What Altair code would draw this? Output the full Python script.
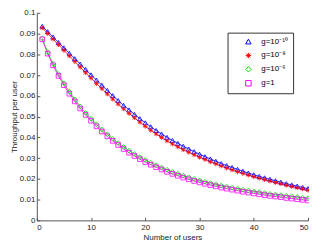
import altair as alt
import pandas as pd

users = list(range(1, 51))

g_1e10 = [0.0935, 0.0909, 0.0883, 0.0857, 0.0831, 0.0805, 0.0779, 0.0753, 0.0727, 0.0701,
          0.0676, 0.0651, 0.0626, 0.0601, 0.0577, 0.0554, 0.0532, 0.0511, 0.0490, 0.0470,
          0.0451, 0.0433, 0.0416, 0.0400, 0.0385, 0.0371, 0.0357, 0.0344, 0.0331, 0.0319,
          0.0307, 0.0296, 0.0285, 0.0274, 0.0264, 0.0255, 0.0246, 0.0237, 0.0228, 0.0220,
          0.0212, 0.0205, 0.0198, 0.0191, 0.0184, 0.0177, 0.0171, 0.0165, 0.0159, 0.0153]

g_1e8 = [0.0927, 0.0900, 0.0873, 0.0846, 0.0819, 0.0792, 0.0765, 0.0738, 0.0711, 0.0685,
         0.0659, 0.0634, 0.0609, 0.0584, 0.0560, 0.0537, 0.0515, 0.0494, 0.0473, 0.0453,
         0.0434, 0.0416, 0.0399, 0.0383, 0.0368, 0.0354, 0.0340, 0.0328, 0.0316, 0.0304,
         0.0293, 0.0282, 0.0272, 0.0262, 0.0252, 0.0243, 0.0234, 0.0226, 0.0218, 0.0210,
         0.0203, 0.0196, 0.0189, 0.0182, 0.0176, 0.0169, 0.0163, 0.0157, 0.0151, 0.0145]

g_1e6 = [0.0877, 0.0810, 0.0755, 0.0705, 0.0660, 0.0620, 0.0583, 0.0549, 0.0518, 0.0490,
         0.0463, 0.0438, 0.0415, 0.0393, 0.0373, 0.0354, 0.0336, 0.0320, 0.0305, 0.0291,
         0.0278, 0.0266, 0.0255, 0.0244, 0.0234, 0.0225, 0.0216, 0.0208, 0.0200, 0.0193,
         0.0186, 0.0180, 0.0174, 0.0168, 0.0163, 0.0158, 0.0153, 0.0148, 0.0144, 0.0140,
         0.0136, 0.0132, 0.0128, 0.0125, 0.0122, 0.0119, 0.0116, 0.0113, 0.0110, 0.0107]

g_1 = [0.0872, 0.0803, 0.0747, 0.0696, 0.0651, 0.0610, 0.0573, 0.0539, 0.0508, 0.0480,
       0.0453, 0.0428, 0.0405, 0.0383, 0.0363, 0.0344, 0.0326, 0.0310, 0.0295, 0.0281,
       0.0268, 0.0256, 0.0245, 0.0234, 0.0224, 0.0215, 0.0206, 0.0198, 0.0190, 0.0183,
       0.0176, 0.0170, 0.0164, 0.0158, 0.0153, 0.0148, 0.0143, 0.0138, 0.0134, 0.0130,
       0.0126, 0.0122, 0.0118, 0.0115, 0.0112, 0.0108, 0.0105, 0.0102, 0.0099, 0.0096]

series_names = ["g=10\u207b\u00b9\u2070", "g=10\u207b\u2078", "g=10\u207b\u2076", "g=1"]
series_values = [g_1e10, g_1e8, g_1e6, g_1]
colors = ["#0000ff", "#ff0000", "#00e000", "#ff00ff"]
asterisk = "M-1,0L1,0M0,-1L0,1M-0.7,-0.7L0.7,0.7M-0.7,0.7L0.7,-0.7"
shapes = ["triangle-up", asterisk, "diamond", "square"]

x_ticks = [0, 10, 20, 30, 40, 50]
y_ticks = [0, 0.01, 0.02, 0.03, 0.04, 0.05, 0.06, 0.07, 0.08, 0.09, 0.1]

rows = []
for name, vals in zip(series_names, series_values):
    for u, v in zip(users, vals):
        rows.append({"users": u, "thr": v, "series": name})
df = pd.DataFrame(rows)

W, H = 273, 209
FONT = "Liberation Sans"

xs = alt.Scale(domain=[0, 50], nice=False)
ys = alt.Scale(domain=[0, 0.1], nice=False)

def legend():
    return alt.Legend(title=None, orient="none", legendX=192, legendY=20,
                      fillColor="white", strokeColor="#333333", padding=5,
                      labelFontSize=8, labelFont=FONT, symbolSize=30,
                      symbolStrokeWidth=1, rowPadding=4, labelOffset=9,
                      symbolOffset=12)

color = alt.Color("series:N", scale=alt.Scale(domain=series_names, range=colors),
                  legend=legend())
shape = alt.Shape("series:N", scale=alt.Scale(domain=series_names, range=shapes),
                  legend=legend())

xaxis = alt.Axis(values=x_ticks, grid=False, ticks=False, labelFontSize=8, labelFont=FONT,
                 title="Number of users", titleFontSize=8, titleFont=FONT,
                 titleFontWeight="normal", labelPadding=3, titlePadding=2,
                 domainColor="#555555", labelColor="#222222", titleColor="#222222")
yaxis = alt.Axis(values=y_ticks, format="~g", grid=False, ticks=False, labelFontSize=8,
                 labelFont=FONT, labelOverlap=False, title="Throughput per user",
                 titleFontSize=8, titleFont=FONT, titleFontWeight="normal",
                 labelPadding=2, titlePadding=1,
                 domainColor="#555555", labelColor="#222222", titleColor="#222222")

# inward tick marks: mirrored axes placed on the bottom/left edges
xin = alt.Axis(orient="top", offset=-H, values=x_ticks, labels=False, domain=False,
               grid=False, ticks=True, tickSize=3, tickColor="#555555", title=None)
yin = alt.Axis(orient="right", offset=-W, values=y_ticks, labels=False, domain=False,
               grid=False, ticks=True, tickSize=3, tickColor="#555555", title=None)

base = alt.Chart(df)
lines = base.mark_line(strokeWidth=0.8).encode(
    x=alt.X("users:Q", scale=xs, axis=xaxis),
    y=alt.Y("thr:Q", scale=ys, axis=yaxis),
    color=color,
    detail="series:N",
)
points = base.mark_point(filled=False, size=22, strokeWidth=0.8, opacity=1).encode(
    x=alt.X("users:Q", scale=xs, axis=xin),
    y=alt.Y("thr:Q", scale=ys, axis=yin),
    color=color,
    shape=shape,
)

chart = alt.layer(lines, points).resolve_axis(x="independent", y="independent").properties(
    width=W, height=H,
    autosize=alt.AutoSizeParams(type="none"),
    padding={"left": 29, "top": 4, "right": 1, "bottom": 26},
).configure_view(stroke=None).configure_axis(domainWidth=1)

chart.save("out.html", embed_options={"renderer": "svg", "actions": False})
